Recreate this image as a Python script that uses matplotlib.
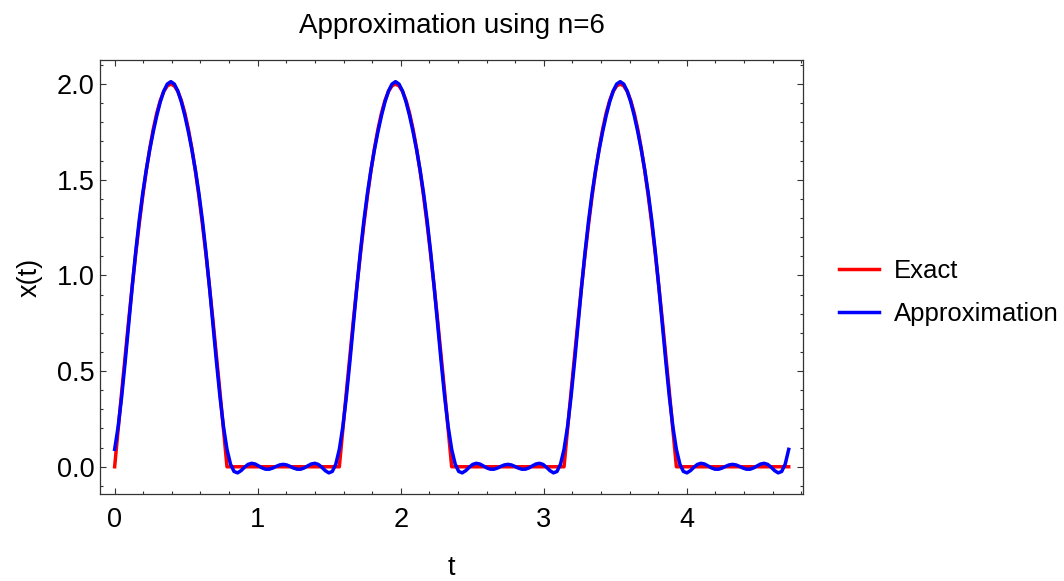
import numpy as np
import matplotlib
matplotlib.use("Agg")
import matplotlib.pyplot as plt
from matplotlib.ticker import MultipleLocator

# samples of x(t), evenly spaced over t = 0 .. 3*pi/2
T_START = 0.0
T_END = 3 * np.pi / 2

EXACT = [
    0.0, 0.1960, 0.3902, 0.5806, 0.7654, 0.9428, 1.1111, 1.2688, 1.4142, 1.5460, 1.6629, 1.7638, 1.8478, 1.9139, 1.9616, 1.9904,
    2.0, 1.9904, 1.9616, 1.9139, 1.8478, 1.7638, 1.6629, 1.5460, 1.4142, 1.2688, 1.1111, 0.9428, 0.7654, 0.5806, 0.3902, 0.1960,
    0.0, 0.0, 0.0, 0.0, 0.0, 0.0, 0.0, 0.0, 0.0, 0.0, 0.0, 0.0, 0.0, 0.0, 0.0, 0.0,
    0.0, 0.0, 0.0, 0.0, 0.0, 0.0, 0.0, 0.0, 0.0, 0.0, 0.0, 0.0, 0.0, 0.0, 0.0, 0.0,
    0.0, 0.1960, 0.3902, 0.5806, 0.7654, 0.9428, 1.1111, 1.2688, 1.4142, 1.5460, 1.6629, 1.7638, 1.8478, 1.9139, 1.9616, 1.9904,
    2.0, 1.9904, 1.9616, 1.9139, 1.8478, 1.7638, 1.6629, 1.5460, 1.4142, 1.2688, 1.1111, 0.9428, 0.7654, 0.5806, 0.3902, 0.1960,
    0.0, 0.0, 0.0, 0.0, 0.0, 0.0, 0.0, 0.0, 0.0, 0.0, 0.0, 0.0, 0.0, 0.0, 0.0, 0.0,
    0.0, 0.0, 0.0, 0.0, 0.0, 0.0, 0.0, 0.0, 0.0, 0.0, 0.0, 0.0, 0.0, 0.0, 0.0, 0.0,
    0.0, 0.1960, 0.3902, 0.5806, 0.7654, 0.9428, 1.1111, 1.2688, 1.4142, 1.5460, 1.6629, 1.7638, 1.8478, 1.9139, 1.9616, 1.9904,
    2.0, 1.9904, 1.9616, 1.9139, 1.8478, 1.7638, 1.6629, 1.5460, 1.4142, 1.2688, 1.1111, 0.9428, 0.7654, 0.5806, 0.3902, 0.1960,
    0.0, 0.0, 0.0, 0.0, 0.0, 0.0, 0.0, 0.0, 0.0, 0.0, 0.0, 0.0, 0.0, 0.0, 0.0, 0.0,
    0.0, 0.0, 0.0, 0.0, 0.0, 0.0, 0.0, 0.0, 0.0, 0.0, 0.0, 0.0, 0.0, 0.0, 0.0, 0.0,
    0.0,
]

APPROX = [
    0.0909, 0.2097, 0.3657, 0.5486, 0.7449, 0.9404, 1.1234, 1.2868, 1.4286, 1.5506, 1.6569, 1.7511, 1.8349, 1.9069, 1.9634, 1.9999,
    2.0125, 1.9999, 1.9634, 1.9069, 1.8349, 1.7511, 1.6569, 1.5506, 1.4286, 1.2868, 1.1234, 0.9404, 0.7449, 0.5486, 0.3657, 0.2097,
    0.0909, 0.0137, -0.0245, -0.0319, -0.0204, -0.0024, 0.0123, 0.0181, 0.0144, 0.0046, -0.0060, -0.0127, -0.0129, -0.0070, 0.0018, 0.0095,
    0.0125, 0.0095, 0.0018, -0.0070, -0.0129, -0.0127, -0.0060, 0.0046, 0.0144, 0.0181, 0.0123, -0.0024, -0.0204, -0.0319, -0.0245, 0.0137,
    0.0909, 0.2097, 0.3657, 0.5486, 0.7449, 0.9404, 1.1234, 1.2868, 1.4286, 1.5506, 1.6569, 1.7511, 1.8349, 1.9069, 1.9634, 1.9999,
    2.0125, 1.9999, 1.9634, 1.9069, 1.8349, 1.7511, 1.6569, 1.5506, 1.4286, 1.2868, 1.1234, 0.9404, 0.7449, 0.5486, 0.3657, 0.2097,
    0.0909, 0.0137, -0.0245, -0.0319, -0.0204, -0.0024, 0.0123, 0.0181, 0.0144, 0.0046, -0.0060, -0.0127, -0.0129, -0.0070, 0.0018, 0.0095,
    0.0125, 0.0095, 0.0018, -0.0070, -0.0129, -0.0127, -0.0060, 0.0046, 0.0144, 0.0181, 0.0123, -0.0024, -0.0204, -0.0319, -0.0245, 0.0137,
    0.0909, 0.2097, 0.3657, 0.5486, 0.7449, 0.9404, 1.1234, 1.2868, 1.4286, 1.5506, 1.6569, 1.7511, 1.8349, 1.9069, 1.9634, 1.9999,
    2.0125, 1.9999, 1.9634, 1.9069, 1.8349, 1.7511, 1.6569, 1.5506, 1.4286, 1.2868, 1.1234, 0.9404, 0.7449, 0.5486, 0.3657, 0.2097,
    0.0909, 0.0137, -0.0245, -0.0319, -0.0204, -0.0024, 0.0123, 0.0181, 0.0144, 0.0046, -0.0060, -0.0127, -0.0129, -0.0070, 0.0018, 0.0095,
    0.0125, 0.0095, 0.0018, -0.0070, -0.0129, -0.0127, -0.0060, 0.0046, 0.0144, 0.0181, 0.0123, -0.0024, -0.0204, -0.0319, -0.0245, 0.0137,
    0.0909,
]

X_TICKS = [0, 1, 2, 3, 4]
Y_TICKS = [0.0, 0.5, 1.0, 1.5, 2.0]

plt.rcParams["font.family"] = ["Liberation Sans", "DejaVu Sans"]

t = np.linspace(T_START, T_END, len(APPROX))

fig = plt.figure(figsize=(10.64, 5.81), dpi=100)
ax = fig.add_axes([0.0943, 0.1492, 0.6601, 0.7470])

ax.plot(t, EXACT, color="red", lw=2.5, label="Exact", solid_joinstyle="round")
ax.plot(t, APPROX, color="blue", lw=2.5, label="Approximation", solid_joinstyle="round")

ax.set_xlim(-0.10, 4.81)
ax.set_ylim(-0.144, 2.124)
ax.set_xticks(X_TICKS)
ax.set_yticks(Y_TICKS)
ax.set_yticklabels([f"{v:.1f}" for v in Y_TICKS])
ax.xaxis.set_minor_locator(MultipleLocator(0.2))
ax.yaxis.set_minor_locator(MultipleLocator(0.1))

frame_col = "#333333"
for sp in ax.spines.values():
    sp.set_color(frame_col)
    sp.set_linewidth(0.9)
ax.tick_params(which="both", direction="in", top=True, right=True, color=frame_col, width=0.8)
ax.tick_params(which="major", length=4.5, labelsize=19.5, labelcolor="black")
ax.tick_params(which="minor", length=2.3)
ax.tick_params(axis="x", which="major", pad=9)
ax.tick_params(axis="y", which="major", pad=4)

ax.set_title("Approximation using n=6", fontsize=20, pad=20)
ax.set_xlabel("t", fontsize=19.5)
ax.set_ylabel("x(t)", fontsize=19.5)
# baseline of "t" sits just above the bottom edge, like the reference
ax.xaxis.set_label_coords(0.5, -0.186)
ax.xaxis.label.set_verticalalignment("baseline")
ax.yaxis.set_label_coords(-0.100, 0.5)
ax.yaxis.label.set_verticalalignment("center")

ax.legend(loc="center left", bbox_to_anchor=(1.0517, 0.4654), frameon=False,
          fontsize=18.5, handlelength=1.56, handletextpad=0.58,
          labelspacing=0.72, borderpad=0, borderaxespad=0)

fig.savefig("out.png", dpi=100)
